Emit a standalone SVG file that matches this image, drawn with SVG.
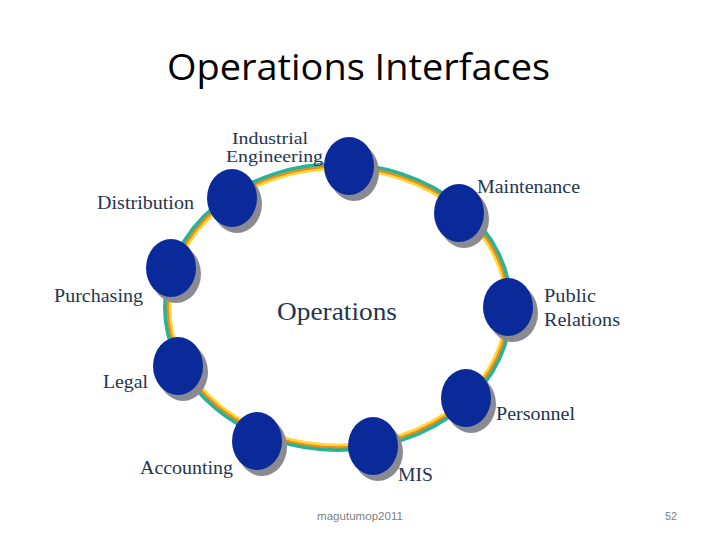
<svg xmlns="http://www.w3.org/2000/svg" width="720" height="540" viewBox="0 0 720 540">
<style>
.lbl{font-family:"Liberation Serif","Times New Roman",serif;font-size:19px;fill:#24354f}
.sm{font-size:17px}
.title{font-family:"Open Sans","Liberation Sans",sans-serif;font-size:37px;fill:#000}
.foot{font-family:"Liberation Sans",Arial,sans-serif;font-size:11px;fill:#7f7f7f}
.node{fill:#0a2a9a}
.shadow{fill:#8a8a92}
</style>
<rect width="720" height="540" fill="#fff"/>
<text class="title" x="167" y="80" textLength="383" lengthAdjust="spacingAndGlyphs">Operations Interfaces</text>
<g id="connectors">
<ellipse cx="338" cy="307" rx="173" ry="143" fill="none" stroke="#25b596" stroke-width="4"/>
<ellipse cx="338" cy="307" rx="170" ry="140" fill="none" stroke="#f08a1a" stroke-width="3"/>
<ellipse cx="338" cy="307" rx="168" ry="138" fill="none" stroke="#ffd836" stroke-width="2.5"/>
</g>
<g id="industrial-engineering">
<ellipse class="shadow" cx="354" cy="172" rx="25" ry="29"/>
<ellipse class="node" cx="349" cy="166" rx="25" ry="29"/>
<text class="lbl sm" x="232" y="144" textLength="76" lengthAdjust="spacingAndGlyphs">Industrial</text>
<text class="lbl sm" x="226" y="162" textLength="97" lengthAdjust="spacingAndGlyphs">Engineering</text>
</g>
<g id="distribution">
<ellipse class="shadow" cx="237" cy="204" rx="25" ry="29"/>
<ellipse class="node" cx="232" cy="198" rx="25" ry="29"/>
<text class="lbl" x="97" y="209" textLength="97" lengthAdjust="spacingAndGlyphs">Distribution</text>
</g>
<g id="maintenance">
<ellipse class="shadow" cx="464" cy="219" rx="25" ry="29"/>
<ellipse class="node" cx="459" cy="213" rx="25" ry="29"/>
<text class="lbl" x="477" y="193" textLength="103" lengthAdjust="spacingAndGlyphs">Maintenance</text>
</g>
<g id="purchasing">
<ellipse class="shadow" cx="176" cy="274" rx="25" ry="29"/>
<ellipse class="node" cx="171" cy="268" rx="25" ry="29"/>
<text class="lbl" x="54" y="302" textLength="89" lengthAdjust="spacingAndGlyphs">Purchasing</text>
</g>
<g id="public-relations">
<ellipse class="shadow" cx="513" cy="313" rx="25" ry="29"/>
<ellipse class="node" cx="508" cy="307" rx="25" ry="29"/>
<text class="lbl" x="544" y="302" textLength="52" lengthAdjust="spacingAndGlyphs">Public</text>
<text class="lbl" x="544" y="326" textLength="76" lengthAdjust="spacingAndGlyphs">Relations</text>
</g>
<g id="legal">
<ellipse class="shadow" cx="183" cy="372" rx="25" ry="29"/>
<ellipse class="node" cx="178" cy="366" rx="25" ry="29"/>
<text class="lbl" x="103" y="388" textLength="45" lengthAdjust="spacingAndGlyphs">Legal</text>
</g>
<g id="personnel">
<ellipse class="shadow" cx="471" cy="404" rx="25" ry="29"/>
<ellipse class="node" cx="466" cy="398" rx="25" ry="29"/>
<text class="lbl" x="496" y="420" textLength="79" lengthAdjust="spacingAndGlyphs">Personnel</text>
</g>
<g id="accounting">
<ellipse class="shadow" cx="262" cy="447" rx="25" ry="29"/>
<ellipse class="node" cx="257" cy="441" rx="25" ry="29"/>
<text class="lbl" x="140" y="474" textLength="93" lengthAdjust="spacingAndGlyphs">Accounting</text>
</g>
<g id="mis">
<ellipse class="shadow" cx="378" cy="452" rx="25" ry="29"/>
<ellipse class="node" cx="373" cy="446" rx="25" ry="29"/>
<text class="lbl" x="398" y="481" textLength="35" lengthAdjust="spacingAndGlyphs">MIS</text>
</g>
<g id="operations">
<text class="lbl" x="277" y="320" style="font-size:26px" textLength="120" lengthAdjust="spacingAndGlyphs">Operations</text>
</g>
<text class="foot" x="317" y="520" textLength="86" lengthAdjust="spacingAndGlyphs">magutumop2011</text>
<text class="foot" x="665" y="520">52</text>
</svg>
